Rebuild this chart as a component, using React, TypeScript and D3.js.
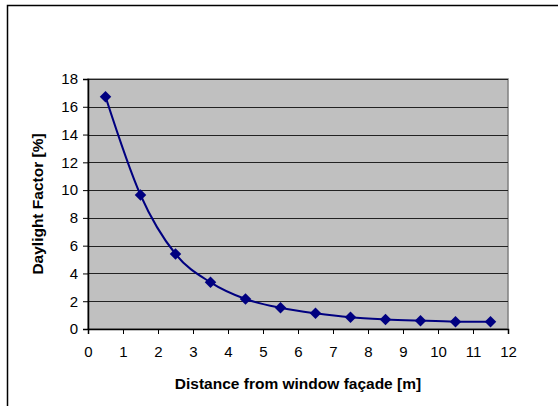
import * as d3 from "d3";
import {useEffect, useRef} from "react";

const distance = [0.5, 1.5, 2.5, 3.5, 4.5, 5.5, 6.5, 7.5, 8.5, 9.5, 10.5, 11.5];
const daylightFactor = [16.73, 9.65, 5.4, 3.36, 2.16, 1.53, 1.13, 0.84, 0.69, 0.6, 0.53, 0.52];
const xTicks = [0, 1, 2, 3, 4, 5, 6, 7, 8, 9, 10, 11, 12];
const yTicks = [0, 2, 4, 6, 8, 10, 12, 14, 16, 18];

export default function App() {
    const ref = useRef<SVGSVGElement>(null);

    const W = 558, H = 406;
    const margin = {top: 79, right: 50, bottom: 77, left: 88};
    const width = W - margin.left - margin.right;   // 420
    const height = H - margin.top - margin.bottom;  // 250

    useEffect(() => {
        const svg = d3.select(ref.current).html("");
        const font = "'Liberation Sans', Arial, sans-serif";

        svg.append("rect")
            .attr("width", W).attr("height", H).attr("fill", "#fff");

        // outer chart border (runs past the right and bottom edges)
        svg.append("rect")
            .attr("x", 7.5).attr("y", 5.5)
            .attr("width", W + 10).attr("height", H + 10)
            .attr("fill", "none").attr("stroke", "#000").attr("stroke-width", 1.5);

        const g = svg.append("g")
            .attr("transform", `translate(${margin.left},${margin.top})`);

        const x = d3.scaleLinear().domain([0, 12]).range([0, width]);
        const y = d3.scaleLinear().domain([0, 18]).range([height, 0]);

        g.append("rect")
            .attr("width", width).attr("height", height)
            .attr("fill", "#c0c0c0")
            .attr("stroke", "#808080").attr("stroke-width", 1.5);

        // gridlines
        g.selectAll(".grid")
            .data(yTicks.filter(d => d > 0))
            .join("line")
            .attr("x1", 0).attr("x2", width)
            .attr("y1", d => Math.round(y(d)) + 0.5)
            .attr("y2", d => Math.round(y(d)) + 0.5)
            .attr("stroke", "#222").attr("stroke-width", 1);

        const yAxis = g.append("g")
            .call(d3.axisLeft(y).tickValues(yTicks).tickSize(5).tickPadding(5).tickFormat(d3.format("d")));
        const xAxis = g.append("g")
            .attr("transform", `translate(0,${height})`)
            .call(d3.axisBottom(x).tickValues(xTicks).tickSize(5).tickPadding(12).tickFormat(d3.format("d")));

        [xAxis, yAxis].forEach(a => {
            a.select(".domain").attr("stroke", "#000").attr("stroke-width", 1.5);
            a.selectAll(".tick line").attr("stroke", "#000");
            a.selectAll("text")
                .attr("font-family", font).attr("font-size", 15).attr("fill", "#000");
        });

        const line = d3.line<number>()
            .x((_, i) => x(distance[i]))
            .y(d => y(d))
            .curve(d3.curveCardinal.tension(0));

        g.append("path")
            .datum(daylightFactor)
            .attr("d", line)
            .attr("fill", "none")
            .attr("stroke", "#000080")
            .attr("stroke-width", 2);

        const marker = d3.symbol(d3.symbolSquare, 66);
        g.selectAll(".pt")
            .data(daylightFactor)
            .join("path")
            .attr("d", marker)
            .attr("transform", (d, i) => `translate(${x(distance[i])},${y(d)}) rotate(45)`)
            .attr("fill", "#000080");

        g.append("text")
            .attr("x", width / 2).attr("y", height + 60)
            .attr("text-anchor", "middle")
            .attr("font-family", font).attr("font-size", 15.5).attr("font-weight", "bold")
            .text("Distance from window façade [m]");

        g.append("text")
            .attr("transform", `translate(${-45},${height / 2}) rotate(-90)`)
            .attr("text-anchor", "middle")
            .attr("font-family", font).attr("font-size", 15.5).attr("font-weight", "bold")
            .text("Daylight Factor [%]");
    }, []);

    return (
        <svg ref={ref} width={W} height={H}
             style={{position: "absolute", left: 0, top: 0, display: "block"}}/>
    );
}
